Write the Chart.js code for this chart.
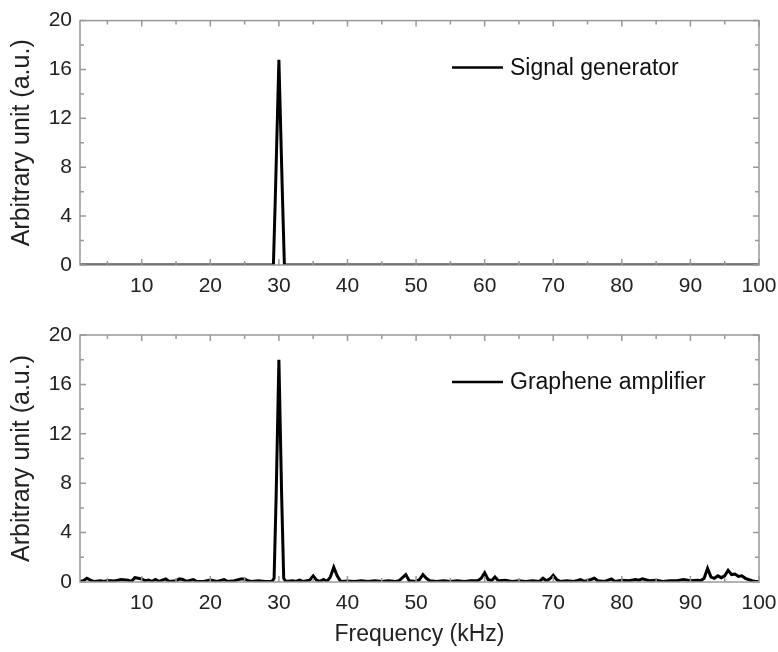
<!DOCTYPE html>
<html>
<head>
<meta charset="utf-8">
<script src="https://cdn.jsdelivr.net/npm/chart.js@4.4.1/dist/chart.umd.min.js"></script>
<style>
  html, body { margin: 0; padding: 0; background: #fff; }
  #wrap { position: relative; width: 778px; height: 652px; }
  canvas { position: absolute; left: 0; }
  #top { top: 0; }
  #bottom { top: 310px; }
</style>
</head>
<body>
<div id="wrap">
  <canvas id="top" width="778" height="300"></canvas>
  <canvas id="bottom" width="778" height="342"></canvas>
</div>
<script>
// x tick labels and y ticks
const xTickValues = [10, 20, 30, 40, 50, 60, 70, 80, 90, 100];
const xMinorValues = [5, 15, 25, 35, 45, 55, 65, 75, 85, 95];
const yTickValues = [0, 4, 8, 12, 16, 20];
const yMinorValues = [2, 6, 10, 14, 18];

// Signal generator spectrum
const signalFreq = [1, 29.2, 29.5, 30, 30.5, 30.8, 100];
const signalAmp  = [0, 0, 6, 16.8, 6, 0, 0];

// Graphene amplifier spectrum
const grapheneFreq = [
  1, 1.5, 2, 2.5, 3, 4, 4.5, 5, 6, 7, 8, 8.5, 9, 9.5, 10, 10.5, 11, 11.5, 12, 12.5,
  13.5, 14, 15, 15.5, 16, 16.5, 17.5, 18, 19, 20, 21, 22, 22.5, 23.5, 24.5, 25, 25.5, 26, 27, 28,
  29, 29.3, 29.6, 30, 30.4, 30.7, 31, 32, 32.5, 33, 33.5, 34.5, 35, 35.5, 36, 36.5, 37, 37.5, 38, 38.5, 39, 40,
  41, 42, 43, 44, 45, 46, 47, 47.5, 48.5, 49, 50, 50.5, 51, 51.5, 52, 53, 54, 55, 56, 57,
  58, 59, 59.5, 60, 60.5, 61, 61.5, 62, 63, 64, 65, 66, 67, 68, 68.5, 69, 69.5, 70, 70.5, 71,
  72, 73, 74, 74.5, 75.5, 76, 76.5, 77.5, 78.5, 79, 80, 81, 82, 82.5, 83, 84, 85, 86, 87, 88,
  89, 90, 91, 91.5, 92, 92.5, 93, 93.5, 94, 94.5, 95, 95.5, 96, 96.5, 97, 97.5, 98, 99, 99.5, 100
];
const grapheneAmp = [
  0.05, 0.1, 0.3, 0.15, 0.05, 0.1, 0.05, 0.12, 0.08, 0.2, 0.15, 0.05, 0.35, 0.3, 0.25, 0.1, 0.15, 0.05, 0.2, 0.05,
  0.25, 0.05, 0.1, 0.25, 0.2, 0.05, 0.2, 0.05, 0.05, 0.15, 0.05, 0.2, 0.05, 0.1, 0.25, 0.25, 0.1, 0.05, 0.1, 0.05,
  0.05, 0.3, 7, 18, 7, 0.3, 0.05, 0.1, 0.05, 0.15, 0.05, 0.15, 0.5, 0.15, 0.05, 0.2, 0.05, 0.4, 1.2, 0.5, 0.05, 0.08,
  0.05, 0.1, 0.05, 0.1, 0.05, 0.1, 0.05, 0.1, 0.6, 0.1, 0.05, 0.2, 0.6, 0.3, 0.1, 0.05, 0.1, 0.05, 0.1, 0.05,
  0.1, 0.1, 0.3, 0.75, 0.2, 0.1, 0.4, 0.1, 0.15, 0.05, 0.1, 0.05, 0.1, 0.05, 0.3, 0.1, 0.25, 0.55, 0.2, 0.05,
  0.1, 0.05, 0.2, 0.05, 0.2, 0.3, 0.1, 0.05, 0.25, 0.05, 0.15, 0.1, 0.2, 0.15, 0.25, 0.1, 0.15, 0.05, 0.1, 0.1,
  0.2, 0.1, 0.15, 0.1, 0.3, 1.1, 0.4, 0.3, 0.5, 0.35, 0.5, 0.95, 0.6, 0.65, 0.45, 0.5, 0.3, 0.1, 0.05, 0.05
];

const FONT = '"Liberation Sans", Arial, sans-serif';
const FRAME = '#999999';

// frame + inward ticks on all four sides
const frameTicks = {
  id: 'frameTicks',
  afterDatasetsDraw(chart) {
    const { ctx, chartArea: a, scales: { x, y } } = chart;
    ctx.save();
    ctx.strokeStyle = FRAME;
    ctx.lineWidth = 1.5;
    const tick = (vals, len) => {
      vals.forEach(v => {
        const px = x.getPixelForValue(v);
        ctx.beginPath();
        ctx.moveTo(px, a.bottom); ctx.lineTo(px, a.bottom - len);
        ctx.moveTo(px, a.top); ctx.lineTo(px, a.top + len);
        ctx.stroke();
      });
    };
    const ytick = (vals, len) => {
      vals.forEach(v => {
        const py = y.getPixelForValue(v);
        ctx.beginPath();
        ctx.moveTo(a.left, py); ctx.lineTo(a.left + len, py);
        ctx.moveTo(a.right, py); ctx.lineTo(a.right - len, py);
        ctx.stroke();
      });
    };
    tick(xTickValues, 6);
    tick(xMinorValues, 4);
    ytick(yTickValues, 6);
    ytick(yMinorValues, 4);
    ctx.strokeRect(a.left, a.top, a.right - a.left, a.bottom - a.top);
    ctx.restore();
  }
};

// legend line + label inside the plot
const innerLegend = {
  id: 'innerLegend',
  afterDraw(chart) {
    const { ctx, chartArea: a } = chart;
    const ds = chart.data.datasets[0];
    const lx = a.left + 372;
    const ly = a.top + 47;
    ctx.save();
    ctx.strokeStyle = '#000';
    ctx.lineWidth = 2.5;
    ctx.beginPath();
    ctx.moveTo(lx, ly); ctx.lineTo(lx + 51, ly);
    ctx.stroke();
    ctx.fillStyle = '#111';
    ctx.font = '23px ' + FONT;
    ctx.textBaseline = 'middle';
    ctx.fillText(ds.label, lx + 58, ly + 1);
    ctx.restore();
  }
};

function makeChart(id, label, freq, amp, padTop, xHeight, showXTitle) {
  const points = freq.map((f, i) => ({ x: f, y: amp[i] }));
  return new Chart(document.getElementById(id), {
    type: 'line',
    data: {
      datasets: [{
        label: label,
        data: points,
        borderColor: '#000',
        borderWidth: 3,
        pointRadius: 0,
        tension: 0,
        fill: false
      }]
    },
    options: {
      responsive: false,
      animation: false,
      devicePixelRatio: 1,
      layout: { padding: { top: padTop, right: 0, left: 0, bottom: 0 } },
      plugins: { legend: { display: false }, tooltip: { enabled: false } },
      scales: {
        x: {
          type: 'linear',
          min: 1,
          max: 100,
          afterBuildTicks: s => { s.ticks = xTickValues.map(v => ({ value: v })); },
          afterFit: s => { s.height = xHeight; s.paddingRight = 19; },
          grid: { display: false, drawTicks: false },
          border: { display: false },
          ticks: { color: '#222', font: { family: FONT, size: 21 }, padding: 9, maxRotation: 0 },
          title: {
            display: showXTitle,
            text: 'Frequency (kHz)',
            color: '#222',
            font: { family: FONT, size: 23 },
            padding: { top: 8 }
          }
        },
        y: {
          min: 0,
          max: 20,
          afterBuildTicks: s => { s.ticks = yTickValues.map(v => ({ value: v })); },
          afterFit: s => { s.width = 80; },
          grid: { display: false, drawTicks: false },
          border: { display: false },
          ticks: { color: '#222', font: { family: FONT, size: 21 }, padding: 8 },
          title: {
            display: true,
            text: 'Arbitrary unit (a.u.)',
            color: '#222',
            font: { family: FONT, size: 25 },
            padding: { top: 7, bottom: 0 }
          }
        }
      }
    },
    plugins: [frameTicks, innerLegend]
  });
}

makeChart('top', 'Signal generator', signalFreq, signalAmp, 19, 35, false);
makeChart('bottom', 'Graphene amplifier', grapheneFreq, grapheneAmp, 25, 70, true);
</script>
</body>
</html>
